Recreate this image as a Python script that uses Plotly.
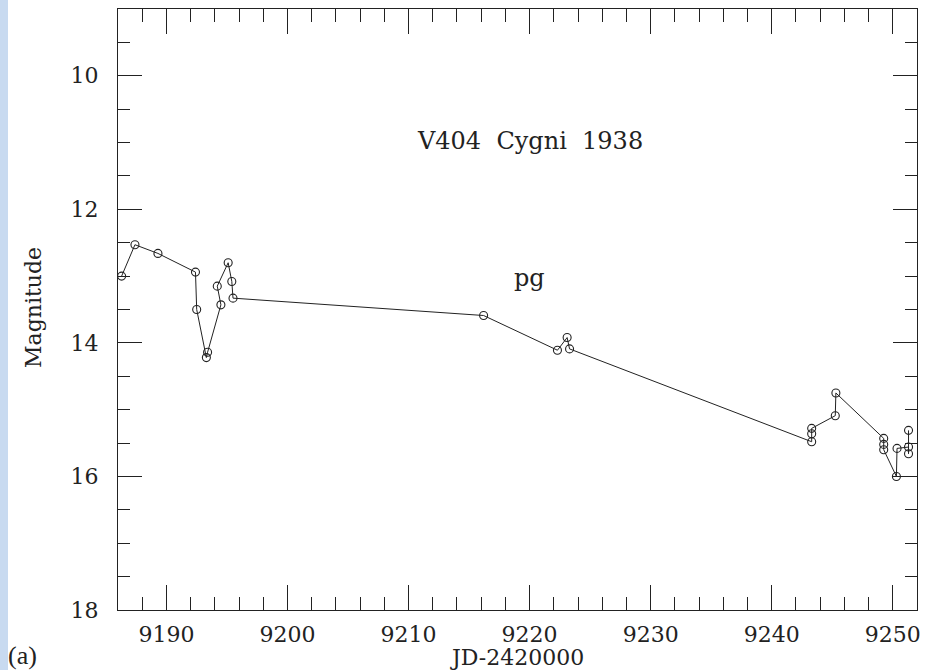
import plotly.graph_objects as go

# Photographic (pg) light curve of V404 Cygni, 1938 outburst
jd = [9186.3, 9187.4, 9189.3, 9192.4, 9192.5, 9193.3, 9193.4, 9194.5, 9194.2,
      9195.1, 9195.4, 9195.5,
      9216.2, 9222.3, 9223.1, 9223.3,
      9243.3, 9243.3, 9243.3, 9245.25, 9245.3,
      9249.25, 9249.25, 9249.25, 9250.3, 9250.35,
      9251.3, 9251.3, 9251.3]
mag = [13.00, 12.53, 12.66, 12.94, 13.50, 14.22, 14.14, 13.43, 13.15,
       12.80, 13.08, 13.33,
       13.59, 14.11, 13.92, 14.09,
       15.48, 15.36, 15.28, 15.09, 14.75,
       15.43, 15.52, 15.60, 16.00, 15.58,
       15.56, 15.66, 15.31]

x_range = [9186, 9252]
y_range = [18, 9]

INK = "#222222"
FONT = "DejaVu Serif"

# plot-area geometry in pixels
W, H = 926, 670
ML, MR, MT, MB = 118, 9, 9, 60
PW, PH = W - ML - MR, H - MT - MB


def px_to_paper(px, py):
    """Figure pixel position -> paper coordinates of the plot area."""
    return (px - ML) / PW, (H - MB - py) / PH


fig = go.Figure()
fig.add_trace(go.Scatter(
    x=jd, y=mag, mode="lines+markers",
    line=dict(color=INK, width=1),
    marker=dict(symbol="circle-open", size=8, color=INK, line=dict(width=1.1)),
    showlegend=False,
))

axis_common = dict(
    showline=True, linecolor=INK, linewidth=1.3, mirror="allticks",
    ticks="inside", tickcolor=INK, tickwidth=1.2,
    showgrid=False, zeroline=False, automargin=False,
    tickfont=dict(family=FONT, size=22, color=INK),
)

fig.update_xaxes(
    range=x_range, tick0=9190, dtick=10, ticklen=25,
    minor=dict(ticks="inside", tick0=9190, dtick=2, ticklen=13,
               tickcolor=INK, tickwidth=1.2, showgrid=False),
    ticklabelstandoff=4,
    **axis_common,
)
fig.update_yaxes(
    range=y_range, tick0=10, dtick=2, ticklen=24,
    minor=dict(ticks="inside", tick0=10, dtick=0.5, ticklen=12,
               tickcolor=INK, tickwidth=1.2, showgrid=False),
    ticklabelstandoff=14,
    **axis_common,
)

# axis titles and panel tag placed as paper-anchored text
for text, (px, py), angle, family, size in [
    ("JD-2420000", (517, 657), 0, FONT, 22),
    ("Magnitude", (33, 308), -90, FONT, 22),
    ("(a)", (22, 655), 0, "Liberation Serif", 26),
]:
    ax, ay = px_to_paper(px, py)
    fig.add_annotation(x=ax, y=ay, xref="paper", yref="paper",
                       xanchor="center", yanchor="middle",
                       text=text, showarrow=False, textangle=angle,
                       font=dict(family=family, size=size, color=INK))

fig.add_annotation(x=9220, y=10.97, xref="x", yref="y",
                   text="V404&nbsp;&nbsp;Cygni&nbsp;&nbsp;1938", showarrow=False,
                   xanchor="center", yanchor="middle",
                   font=dict(family=FONT, size=24, color=INK))
fig.add_annotation(x=9220, y=13.03, xref="x", yref="y",
                   text="pg", showarrow=False,
                   xanchor="center", yanchor="middle",
                   font=dict(family=FONT, size=24, color=INK))

# pale blue strip along the left page edge
fig.add_shape(type="rect", xref="paper", yref="paper",
              x0=-ML / PW, x1=(8 - ML) / PW, y0=-0.2, y1=1.1,
              fillcolor="#c8daf0", line=dict(width=0), layer="below")

fig.update_layout(
    width=W, height=H,
    margin=dict(l=ML, r=MR, t=MT, b=MB),
    paper_bgcolor="white", plot_bgcolor="white",
)

fig.write_html("out.html")
